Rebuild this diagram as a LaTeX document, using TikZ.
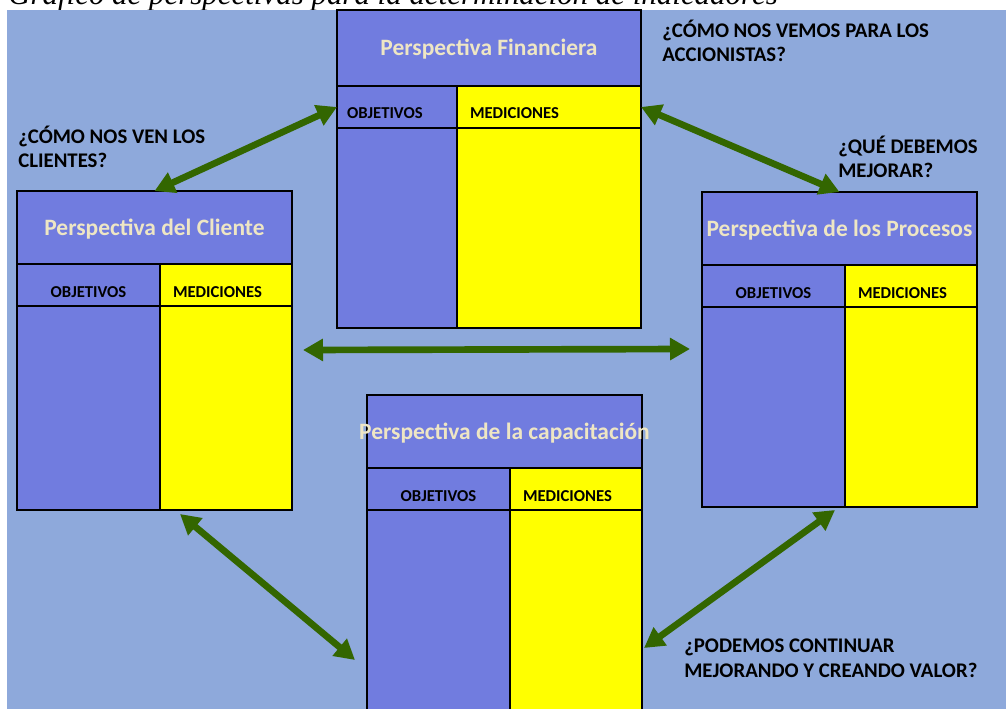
\documentclass[tikz,border=0pt]{standalone}
\usepackage{fontspec}
\setmainfont{Liberation Serif}
\newfontfamily\calibri{Carlito}
\usetikzlibrary{positioning,arrows.meta}
\definecolor{fondo}{HTML}{8EA9DB}
\definecolor{azul}{HTML}{717CDF}
\definecolor{amarillo}{HTML}{FFFF00}
\definecolor{crema}{HTML}{EEE6C4}
\definecolor{verde}{HTML}{336600}

\begin{document}
\begin{tikzpicture}[x=0.75pt,y=0.75pt]
\tikzstyle{caja}=[draw=black,line width=0.9pt,outer sep=0pt,inner sep=0pt]
\tikzstyle{titulo}=[caja,fill=azul,text=crema,font=\calibri\bfseries\fontsize{17.6}{20}\selectfont,text height=11.4pt,text depth=0pt]
\tikzstyle{fila}=[caja,font=\calibri\bfseries\fontsize{12.5}{15}\selectfont,text height=24.75pt,text depth=6.75pt]
\tikzstyle{obj}=[fila,fill=azul]
\tikzstyle{med}=[fila,fill=amarillo,align=left,inner xsep=9.75pt]
\tikzstyle{pregunta}=[anchor=base west,inner sep=0pt,align=left,font=\calibri\bfseries\fontsize{15.6}{18.5}\selectfont]
\tikzstyle{flecha}=[draw=verde,line width=5pt,{Triangle[length=15pt,width=16pt]}-{Triangle[length=15pt,width=16pt]}]

\useasboundingbox (0,0) rectangle (1006,-709);
\node[anchor=base west,inner sep=0pt,font=\itshape\fontsize{23.2}{27}\selectfont] (cap) at (8,-4.5) {Gráfico de perspectivas para la determinación de indicadores};
\fill[fondo] (7,-10) rectangle (1006,-709);

% financiera
\node[titulo,anchor=north west,minimum width=228pt,minimum height=57pt] (fin) at (337,-10) {Perspectiva Financiera};
\node[obj,below right=0pt and 0pt of fin.south west,align=left,inner xsep=7.5pt,text width=75pt] (finobj) {OBJETIVOS};
\node[med,right=0pt of finobj,text width=118.5pt] (finmed) {MEDICIONES};
\node[caja,fill=azul,below=0pt of finobj,minimum width=90pt,minimum height=150pt] (finobjc) {};
\node[caja,fill=amarillo,below=0pt of finmed,minimum width=138pt,minimum height=150pt] (finmedc) {};

% cliente
\node[titulo,anchor=north west,minimum width=206.25pt,minimum height=54.75pt] (cli) at (17,-191) {Perspectiva del Cliente};
\node[obj,below right=0pt and 0pt of cli.south west,minimum width=107.25pt] (cliobj) {OBJETIVOS};
\node[med,right=0pt of cliobj,text width=79.5pt] (climed) {MEDICIONES};
\node[caja,fill=azul,below=0pt of cliobj,minimum width=107.25pt,minimum height=153pt] (cliobjc) {};
\node[caja,fill=amarillo,below=0pt of climed,minimum width=99pt,minimum height=153pt] (climedc) {};

% procesos
\node[titulo,anchor=north west,minimum width=206.25pt,minimum height=54.75pt] (proc) at (702,-192) {Perspectiva de los Procesos};
\node[obj,below right=0pt and 0pt of proc.south west,minimum width=107.25pt] (procobj) {OBJETIVOS};
\node[med,right=0pt of procobj,text width=79.5pt] (procmed) {MEDICIONES};
\node[caja,fill=azul,below=0pt of procobj,minimum width=107.25pt,minimum height=150pt] (procobjc) {};
\node[caja,fill=amarillo,below=0pt of procmed,minimum width=99pt,minimum height=150pt] (procmedc) {};

% capacitacion
\node[titulo,anchor=north west,minimum width=206.25pt,minimum height=54.75pt] (capa) at (367,-395) {\makebox[0pt]{Perspectiva de la capacitación}};
\node[obj,below right=0pt and 0pt of capa.south west,minimum width=107.25pt] (capaobj) {OBJETIVOS};
\node[med,right=0pt of capaobj,text width=79.5pt] (capamed) {MEDICIONES};
\node[caja,fill=azul,below=0pt of capaobj,minimum width=107.25pt,minimum height=157.5pt] (capaobjc) {};
\node[caja,fill=amarillo,below=0pt of capamed,minimum width=99pt,minimum height=157.5pt] (capamedc) {};

% preguntas (base = ultima linea)
\node[pregunta] (q1) at ([shift={(21,-52)}]fin.north east) {¿CÓMO NOS VEMOS PARA LOS\\ACCIONISTAS?};
\node[pregunta] (q2) at ([shift={(1,23)}]cli.north west) {¿CÓMO NOS VEN LOS\\CLIENTES?};
\node[pregunta] (q3) at ([shift={(-139,14)}]proc.north east) {¿QUÉ DEBEMOS\\MEJORAR?};
\node[pregunta] (q4) at ([shift={(42,-167)}]capamedc.north east) {¿PODEMOS CONTINUAR\\MEJORANDO Y CREANDO VALOR?};

\path (cli.north) edge[flecha] (finobj.west);
\path (finmed.east) edge[flecha] (proc.north);
\path ([shift={(11,-44)}]climedc.north east) edge[flecha] ([shift={(-12,-42)}]procobjc.north west);
\path ([shift={(20,-4)}]climedc.south west) edge[flecha] ([shift={(-12,-150)}]capaobjc.north west);
\path ([shift={(-10,-3)}]procmedc.south west) edge[flecha] ([shift={(2,-138)}]capamedc.north east);
\end{tikzpicture}
\end{document}
